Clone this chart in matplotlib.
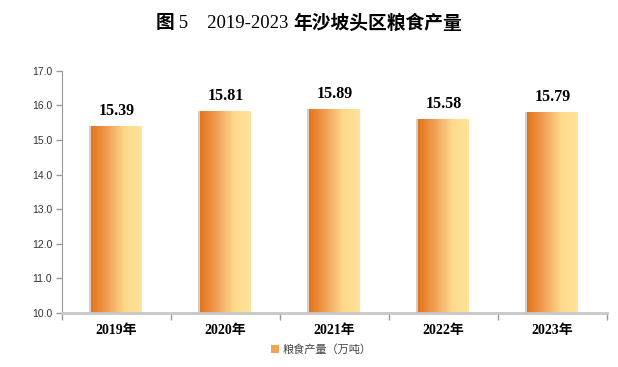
import numpy as np
import matplotlib.pyplot as plt
from matplotlib.colors import LinearSegmentedColormap
from matplotlib.patches import Rectangle

years = ['2019年', '2020年', '2021年', '2022年', '2023年']
values = [15.39, 15.81, 15.89, 15.58, 15.79]
series_name = '粮食产量（万吨）'
title_parts = [('图', 'bold'), (' 5    2019-2023 ', 'normal'), ('年沙坡头区粮食产量', 'bold')]

serif = ['Liberation Serif', 'Noto Sans CJK SC']
sans = ['Liberation Sans', 'Noto Sans CJK SC']

fig = plt.figure(figsize=(6.18, 3.67), dpi=100)
ax = fig.add_axes([0.1003, 0.147, 0.8817, 0.66])

cmap = LinearSegmentedColormap.from_list('bar', ['#E5731A', '#F0A055', '#FDD98C', '#FFE49A'])
grad = np.linspace(0, 1, 256).reshape(1, -1)

x = np.arange(len(years))
width = 0.46
ymin = 10.0
for xi, v in zip(x, values):
    # thin shadow on the left edge
    ax.add_patch(Rectangle((xi - width / 2 - 0.022, ymin), 0.03, v - ymin + 0.02,
                           facecolor='#cfcfcf', edgecolor='none', zorder=1))
    ax.imshow(grad, cmap=cmap, aspect='auto', zorder=2,
              extent=[xi - width / 2, xi + width / 2, ymin, v])
    ax.text(xi, v + 0.22, f'{v:.2f}', ha='center', va='bottom',
            fontsize=11.5, fontweight='bold', family=serif)

ax.set_xlim(-0.5, len(years) - 0.5)
ax.set_ylim(10, 17)
yt = np.arange(10, 17.1, 1)
ax.set_yticks(yt)
ax.set_yticklabels([f'{t:.1f}' for t in yt], family=sans, fontsize=7.5, color='#333333')
ax.set_xticks(x)
ax.set_xticklabels(years, family=serif, fontsize=10, fontweight='bold')
ax.tick_params(axis='x', length=0, pad=8)
ax.set_xticks(np.arange(-0.5, len(years)), minor=True)
ax.tick_params(axis='x', which='minor', length=5, color='#999999', width=1)
ax.tick_params(axis='y', length=4, color='#999999', width=1, pad=3)

for s in ['top', 'right']:
    ax.spines[s].set_visible(False)
ax.spines['left'].set_color('#999999')
ax.spines['bottom'].set_color('#c8c8c8')
ax.spines['bottom'].set_linewidth(2)

# title built from pieces so the numbers stay regular weight
pieces = []
prev = None
for txt, w in title_parts:
    if prev is None:
        t = fig.text(0, 0.935, txt, ha='left', va='center', fontsize=13.5, fontweight=w, family=serif)
    else:
        t = ax.annotate(txt, xy=(1, 0.5), xycoords=prev, ha='left', va='center',
                        fontsize=13.5, fontweight=w, family=serif, annotation_clip=False)
    pieces.append(t)
    prev = t
fig.canvas.draw()
r = fig.canvas.get_renderer()
x0 = pieces[0].get_window_extent(r).x0
x1 = pieces[-1].get_window_extent(r).x1
total = (x1 - x0) / fig.bbox.width
pieces[0].set_x(0.5 - total / 2)

handle = Rectangle((0, 0), 1, 1, facecolor='#F2A550', edgecolor='none')
ax.legend([handle], [series_name], loc='center', bbox_to_anchor=(0.52, 0.048),
          bbox_transform=fig.transFigure, frameon=False, handlelength=0.7, handleheight=0.7,
          handletextpad=0.4, labelcolor='#444444', prop={'family': sans, 'size': 8})

fig.savefig('out.png', dpi=100)
